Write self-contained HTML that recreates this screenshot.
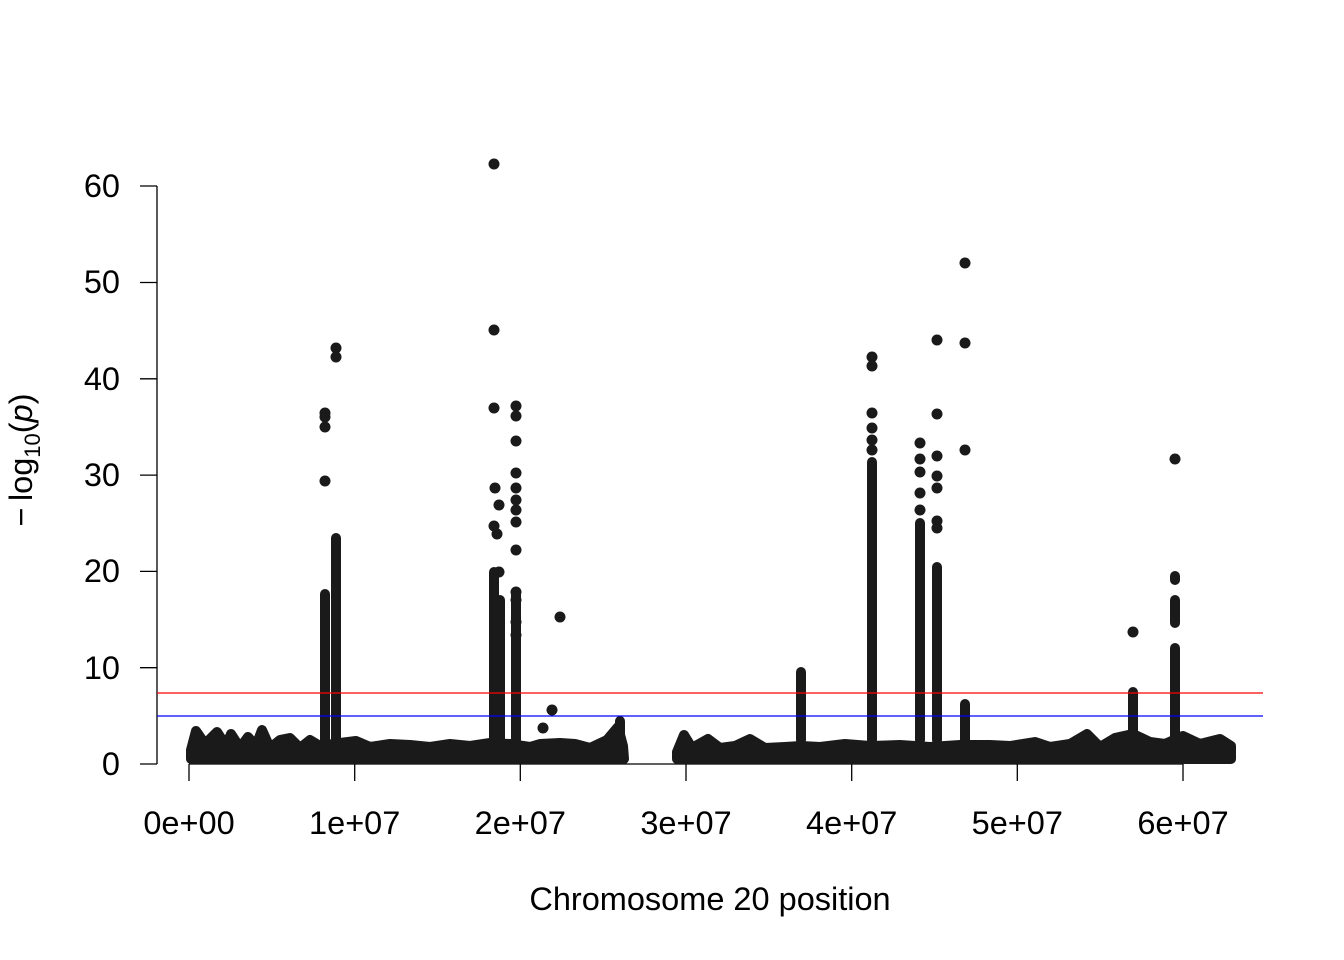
<!DOCTYPE html>
<html><head><meta charset="utf-8"><style>
html,body{margin:0;padding:0;background:#fff}
svg{display:block}
text{font-family:"Liberation Sans",sans-serif;fill:#000}
</style></head><body>
<svg width="1344" height="960" viewBox="0 0 1344 960" xmlns="http://www.w3.org/2000/svg">
<rect width="1344" height="960" fill="#fff"/>
<g stroke="#000" stroke-width="1.3" fill="none">
<line x1="157" y1="186" x2="157" y2="764"/>
<line x1="140" y1="764" x2="157" y2="764"/>
<line x1="140" y1="667.7" x2="157" y2="667.7"/>
<line x1="140" y1="571.4" x2="157" y2="571.4"/>
<line x1="140" y1="475.1" x2="157" y2="475.1"/>
<line x1="140" y1="378.8" x2="157" y2="378.8"/>
<line x1="140" y1="282.5" x2="157" y2="282.5"/>
<line x1="140" y1="186" x2="157" y2="186"/>
<line x1="189" y1="764" x2="1183" y2="764"/>
<line x1="189" y1="764" x2="189" y2="781"/>
<line x1="354.7" y1="764" x2="354.7" y2="781"/>
<line x1="520.3" y1="764" x2="520.3" y2="781"/>
<line x1="686" y1="764" x2="686" y2="781"/>
<line x1="851.7" y1="764" x2="851.7" y2="781"/>
<line x1="1017.3" y1="764" x2="1017.3" y2="781"/>
<line x1="1183" y1="764" x2="1183" y2="781"/>
</g>
<g font-size="32.5" text-anchor="end">
<text x="120" y="775">0</text>
<text x="120" y="679">10</text>
<text x="120" y="582">20</text>
<text x="120" y="486">30</text>
<text x="120" y="390">40</text>
<text x="120" y="293">50</text>
<text x="120" y="197">60</text>
</g>
<g font-size="32.5" text-anchor="middle">
<text x="189" y="834">0e+00</text>
<text x="354.7" y="834">1e+07</text>
<text x="520.3" y="834">2e+07</text>
<text x="686" y="834">3e+07</text>
<text x="851.7" y="834">4e+07</text>
<text x="1017.3" y="834">5e+07</text>
<text x="1183" y="834">6e+07</text>
<text x="710" y="910">Chromosome 20 position</text>
</g>
<text font-size="32.5" text-anchor="middle" transform="translate(32,460) rotate(-90)">−&#8201;log<tspan font-size="22" dy="8">10</tspan><tspan dy="-8">(</tspan><tspan font-style="italic">p</tspan>)</text>

<g fill="#1a1a1a" stroke="#1a1a1a" stroke-width="10" stroke-linejoin="round" stroke-linecap="round">
<polygon points="191,759 191,750 196,731 205,744 217,732 226,746 231,734 240,748 248,737 256,746 262,730 270,748 280,740 290,738 300,748 310,740 320,746 340,743 356,741 370,747 390,744 410,745 430,747 450,744 470,746 490,743 510,744 530,747 540,744 560,743 575,744 590,748 607,740 618,727 623,746 624,759"/>
<polygon points="677,759 677,752 684,735 692,748 708,739 720,748 735,746 750,739 765,748 785,747 801,746 820,747 845,744 870,746 900,745 930,747 960,745 990,745 1010,746 1035,742 1050,747 1070,744 1087,734 1100,747 1115,738 1133,734 1150,742 1165,744 1183,736 1200,744 1220,739 1231,746 1231,759"/>
<line x1="325" y1="740" x2="325" y2="594"/>
<line x1="336" y1="740" x2="336" y2="538"/>
<line x1="494" y1="740" x2="494" y2="572"/>
<line x1="500" y1="740" x2="500" y2="600"/>
<line x1="516" y1="740" x2="516" y2="592"/>
<line x1="620" y1="740" x2="620" y2="721"/>
<line x1="801" y1="740" x2="801" y2="672"/>
<line x1="872" y1="740" x2="872" y2="462"/>
<line x1="920" y1="740" x2="920" y2="523"/>
<line x1="937" y1="740" x2="937" y2="567"/>
<line x1="965" y1="740" x2="965" y2="704"/>
<line x1="1133" y1="740" x2="1133" y2="692"/>
<line x1="1175" y1="740" x2="1175" y2="648"/>
<line x1="1175" y1="623" x2="1175" y2="600"/>
<line x1="1175" y1="580" x2="1175" y2="576"/>
</g>
<g fill="#1a1a1a">
<circle cx="325" cy="481" r="5.5"/><circle cx="325" cy="427" r="5.5"/><circle cx="325" cy="417" r="5.5"/><circle cx="325" cy="413" r="5.5"/>
<circle cx="336" cy="357" r="5.5"/><circle cx="336" cy="348" r="5.5"/>
<circle cx="494" cy="164" r="5.5"/><circle cx="494" cy="330" r="5.5"/><circle cx="494" cy="408" r="5.5"/><circle cx="495" cy="488" r="5.5"/><circle cx="494" cy="526" r="5.5"/><circle cx="497" cy="534" r="5.5"/><circle cx="499" cy="505" r="5.5"/><circle cx="499" cy="572" r="5.5"/>
<circle cx="516" cy="406" r="5.5"/><circle cx="516" cy="416" r="5.5"/><circle cx="516" cy="441" r="5.5"/><circle cx="516" cy="473" r="5.5"/><circle cx="516" cy="488" r="5.5"/><circle cx="516" cy="500" r="5.5"/><circle cx="516" cy="510" r="5.5"/><circle cx="516" cy="522" r="5.5"/><circle cx="516" cy="550" r="5.5"/><circle cx="516" cy="600" r="5.5"/><circle cx="516" cy="592" r="5.5"/><circle cx="516" cy="622" r="5.5"/><circle cx="516" cy="635" r="5.5"/>
<circle cx="560" cy="617" r="5.5"/><circle cx="552" cy="710" r="5.5"/><circle cx="543" cy="728" r="5.5"/>
<circle cx="872" cy="357" r="5.5"/><circle cx="872" cy="366" r="5.5"/><circle cx="872" cy="413" r="5.5"/><circle cx="872" cy="428" r="5.5"/><circle cx="872" cy="440" r="5.5"/><circle cx="872" cy="450" r="5.5"/>
<circle cx="920" cy="443" r="5.5"/><circle cx="920" cy="459" r="5.5"/><circle cx="920" cy="472" r="5.5"/><circle cx="920" cy="493" r="5.5"/><circle cx="920" cy="510" r="5.5"/>
<circle cx="937" cy="340" r="5.5"/><circle cx="937" cy="414" r="5.5"/><circle cx="937" cy="456" r="5.5"/><circle cx="937" cy="476" r="5.5"/><circle cx="937" cy="488" r="5.5"/><circle cx="937" cy="521" r="5.5"/><circle cx="937" cy="528" r="5.5"/>
<circle cx="965" cy="263" r="5.5"/><circle cx="965" cy="343" r="5.5"/><circle cx="965" cy="450" r="5.5"/>
<circle cx="1133" cy="632" r="5.5"/>
<circle cx="1175" cy="459" r="5.5"/>
</g>
<line x1="157" y1="693" x2="1263" y2="693" stroke="#ff0000" stroke-width="1.3"/>
<line x1="157" y1="716" x2="1263" y2="716" stroke="#0000ff" stroke-width="1.3"/>
</svg>
</body></html>
